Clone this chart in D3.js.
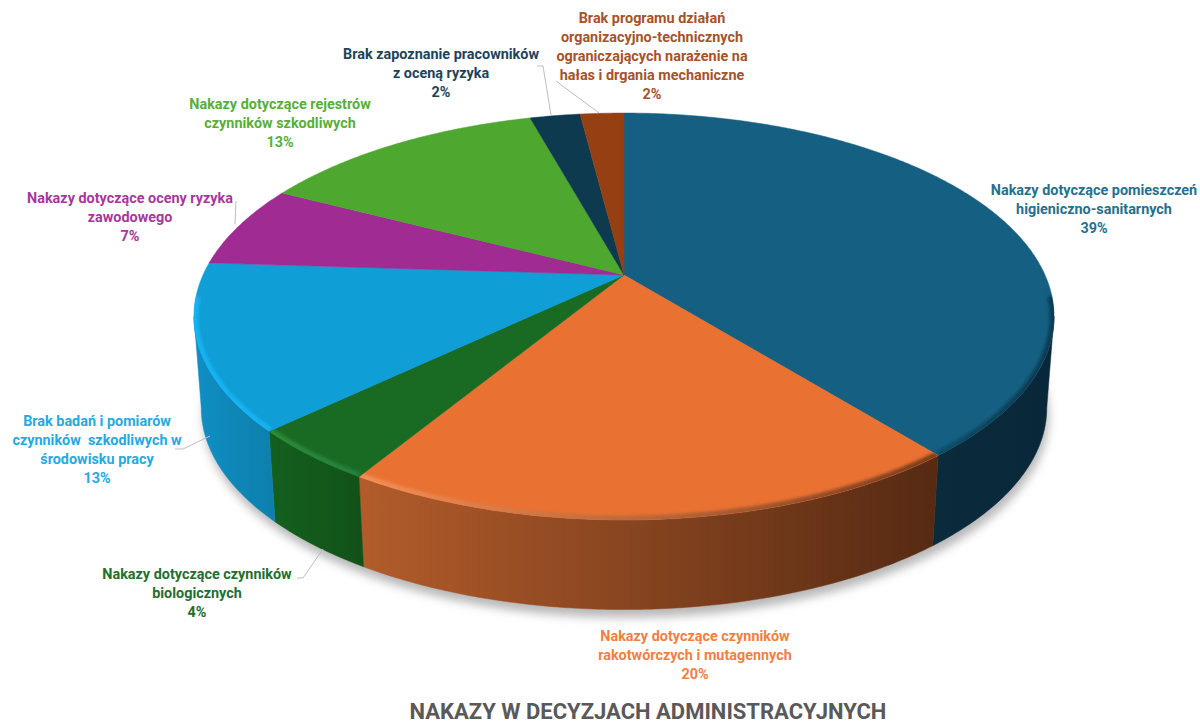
<!DOCTYPE html>
<html><head><meta charset="utf-8">
<script src="https://cdnjs.cloudflare.com/ajax/libs/d3/7.8.5/d3.min.js"></script>
<style>html,body{margin:0;padding:0;background:#fff;overflow:hidden}svg{display:block}</style>
</head><body><svg id="c" width="1200" height="724"></svg>
<script>
const categories = [
  ["Nakazy dotyczące pomieszczeń","higieniczno-sanitarnych"],
  ["Nakazy dotyczące czynników","rakotwórczych i mutagennych"],
  ["Nakazy dotyczące czynników","biologicznych"],
  ["Brak badań i pomiarów","czynników  szkodliwych w","środowisku pracy"],
  ["Nakazy dotyczące oceny ryzyka","zawodowego"],
  ["Nakazy dotyczące rejestrów","czynników szkodliwych"],
  ["Brak zapoznanie pracowników","z oceną ryzyka"],
  ["Brak programu działań","organizacyjno-technicznych","ograniczających narażenie na","hałas i drgania mechaniczne"]
];
const values = [39.2, 19.5, 4.2, 13.1, 6.6, 13.1, 2.3, 2.0];
const faceColors = ["#156082","#E97132","#196B24","#0F9ED5","#A02B93","#4EA72E","#0D3A4E","#953F12"];
const wallLeft   = ["#0a2b3b","#b35c2b","#14601f","#0f8fc4","#7a2070","#3a7f22","#0a2b3b","#6f2f0e"];
const wallRight  = ["#09273a","#562a13","#125219","#0d80ae","#7a2070","#3a7f22","#0a2b3b","#6f2f0e"];
const rimLeft    = ["#0f4a66","#f58f57","#2c8a38","#14b2f2","#c040b0","#60c040","#0d3a4e","#953f12"];
const rimRight   = ["#0c3a52","#7a3d1c","#24803a","#14b2f2","#c040b0","#60c040","#0d3a4e","#953f12"];
const labelColors = ["#24708f","#F0803F","#246E2E","#25A9E0","#A8379B","#58AE38","#1C4459","#A5532A"];
const title = "NAKAZY W DECYZJACH ADMINISTRACYJNYCH";
const labelAnchors = [[1094,189],[695,635],[197,573],[97,420],[130,197],[280,103],[441,53],[652,17]];
const leaders = [null,null,[[297,578],[303,578],[323,549]],[[175,449],[183,449],[210,436]],
  [[236,201],[235,224]],null,[[537,66],[543,66],[551,115]],[[556,81],[599,113]]];

const svg = d3.select("#c"), defs = svg.append("defs");
const cx = 624, cy = 275, A = 421, B = 195, K = 0.204;
const DEPTH = 92, SX = 0.983, SY = 0.99;
function proj(th, bottom){
  const u = Math.sin(th), v = -Math.cos(th), w = 1 - K*v;
  return bottom ? [cx + SX*A*u/w, cy + SY*B*v/w + DEPTH] : [cx + A*u/w, cy + B*v/w];
}
const arcPts = (a0,a1,bottom) => {
  const n = Math.max(2, Math.ceil((a1-a0)/0.01));
  return d3.range(n+1).map(i => proj(a0+(a1-a0)*i/n, bottom));
};
const line = d3.line();
const pie = d3.pie().sort(null).value(d=>d);
const arcs = pie(values);

const blur = (id,s)=>defs.append("filter").attr("id",id).attr("x","-10%").attr("y","-10%").attr("width","120%").attr("height","130%")
  .append("feGaussianBlur").attr("stdDeviation",s);
blur("bShadow",5); blur("bRim",1.5);

// silhouette limits: where the rim turns away from the viewer
const frontStart = Math.acos(-K), frontEnd = 2*Math.PI - frontStart;

// shadow
svg.append("path").attr("d", line(arcPts(0,2*Math.PI,true))+"Z")
  .attr("transform","translate(2,8)").attr("fill","#b8b8b8").attr("filter","url(#bShadow)");

const hGrad = (id,c0,c1,x0,x1)=>{
  const g = defs.append("linearGradient").attr("id",id).attr("gradientUnits","userSpaceOnUse")
    .attr("x1",x0).attr("x2",x1).attr("y1",0).attr("y2",0);
  g.append("stop").attr("offset",0).attr("stop-color",c0);
  g.append("stop").attr("offset",1).attr("stop-color",c1);
};

// walls: only the part facing the viewer
arcs.forEach((d,i)=>{
  const a0 = Math.max(d.startAngle, frontStart), a1 = Math.min(d.endAngle, frontEnd);
  if (a1 <= a0) return;
  const top = arcPts(a0,a1,false), bot = arcPts(a0,a1,true).reverse();
  const xs = top.map(p=>p[0]);
  hGrad("w"+i,wallLeft[i],wallRight[i],d3.min(xs),d3.max(xs));
  svg.append("path").attr("d",line(top.concat(bot))+"Z").attr("fill",`url(#w${i})`)
    .attr("stroke",`url(#w${i})`).attr("stroke-width",0.5);
});

// top faces with a soft bevelled rim
arcs.forEach((d,i)=>{
  const pts = [[cx,cy]].concat(arcPts(d.startAngle,d.endAngle,false));
  const dPath = line(pts)+"Z";
  defs.append("clipPath").attr("id","cp"+i).append("path").attr("d",dPath);
  svg.append("path").attr("d",dPath).attr("fill",faceColors[i]).attr("stroke",faceColors[i]).attr("stroke-width",0.5);
  const a0 = Math.max(d.startAngle, frontStart-0.1), a1 = Math.min(d.endAngle, frontEnd+0.1);
  if (a1 > a0){
    const rp = arcPts(a0,a1,false), xs = rp.map(p=>p[0]);
    hGrad("r"+i,rimLeft[i],rimRight[i],d3.min(xs),d3.max(xs));
    svg.append("g").attr("clip-path",`url(#cp${i})`).append("path").attr("d",line(rp)).attr("fill","none")
      .attr("stroke",`url(#r${i})`).attr("stroke-width",9).attr("filter","url(#bRim)");
  }
});

// leader lines
leaders.forEach(l=>{ if(l) svg.append("path").attr("d",line(l)).attr("fill","none").attr("stroke","#bdbdbd").attr("stroke-width",1); });

// labels
const LH = 19.1;
categories.forEach((lines,i)=>{
  const g = svg.append("text").attr("text-anchor","middle").attr("fill",labelColors[i])
    .style("font-family","Roboto,sans-serif").style("font-weight",700).style("font-size","14.4px");
  lines.concat([Math.round(values[i])+"%"]).forEach((t,j)=>{
    g.append("tspan").attr("xml:space","preserve").attr("x",labelAnchors[i][0]).attr("y",labelAnchors[i][1]+j*LH+5.5).text(t);
  });
});
svg.append("text").attr("x",648).attr("y",719).attr("text-anchor","middle").attr("fill","#595959")
  .style("font-family","Roboto,sans-serif").style("font-weight",700).style("font-size","22px").text(title);
</script></body></html>
